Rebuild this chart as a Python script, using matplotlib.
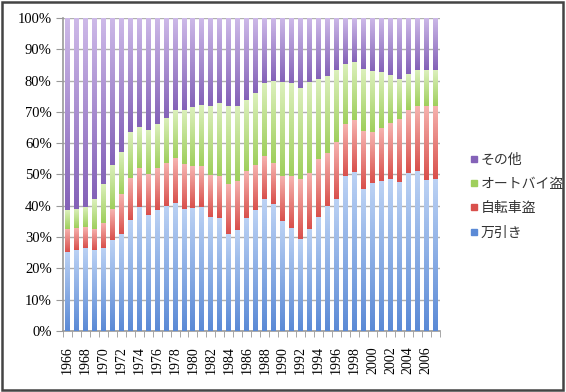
import numpy as np
import matplotlib
matplotlib.use('Agg')
import matplotlib.pyplot as plt
from matplotlib.colors import LinearSegmentedColormap
from matplotlib.lines import Line2D
from matplotlib.patches import Rectangle

plt.rcParams['font.family'] = ['Liberation Serif', 'Noto Sans CJK JP', 'DejaVu Sans']

years = list(range(1966, 2008))
# share of each kind of theft (%)
shoplifting = [25.3, 25.9, 26.6, 25.9, 26.6, 29.0, 31.1, 35.4, 39.6, 37.0,
               38.5, 39.9, 41.0, 39.1, 39.4, 39.6, 36.3, 36.1, 30.9, 32.1,
               36.2, 38.6, 42.0, 40.4, 35.1, 33.0, 29.3, 32.7, 36.5, 39.9,
               42.3, 49.4, 50.9, 45.4, 47.3, 47.9, 48.6, 47.6, 50.5, 51.1,
               48.1, 48.4]
bicycle = [7.4, 7.1, 6.6, 6.8, 8.0, 9.8, 12.5, 13.5, 12.5, 13.0,
           13.6, 13.8, 14.3, 14.1, 13.3, 13.1, 13.4, 13.4, 15.9, 15.8,
           14.9, 14.4, 13.9, 13.3, 14.4, 16.5, 19.1, 17.8, 18.3, 17.0,
           18.0, 16.6, 16.6, 18.6, 16.3, 17.0, 17.7, 20.0, 20.2, 20.7,
           23.7, 23.4]
motorbike = [5.9, 6.1, 6.5, 9.3, 12.5, 14.2, 13.6, 14.7, 13.1, 14.1,
             13.9, 14.4, 15.2, 17.5, 18.8, 19.5, 22.1, 23.3, 25.2, 24.1,
             22.8, 22.9, 23.4, 26.1, 30.0, 29.8, 29.3, 29.0, 25.7, 24.7,
             23.0, 19.3, 18.5, 19.8, 19.4, 17.8, 15.6, 12.9, 11.5, 11.7,
             11.5, 11.5]
other = [61.4, 60.9, 60.3, 58.0, 52.9, 47.0, 42.8, 36.4, 34.8, 35.9,
         34.0, 31.9, 29.5, 29.3, 28.5, 27.8, 28.2, 27.2, 28.0, 28.0,
         26.1, 24.1, 20.7, 20.2, 20.5, 20.7, 22.3, 20.5, 19.5, 18.4,
         16.7, 14.7, 14.0, 16.2, 17.0, 17.3, 18.1, 19.5, 17.8, 16.5,
         16.7, 16.7]

labels = ['万引き', '自転車盗', 'オートバイ盗', 'その他']
series = [shoplifting, bicycle, motorbike, other]
# (dark bottom, light top) for the glossy gradient
grads = [('#5b8ad6', '#bcd2f4'), ('#d9504c', '#f6b4b0'),
         ('#9fcf5c', '#dcf0bc'), ('#8462b8', '#cdb9e8')]

fig = plt.figure(figsize=(5.66, 3.92), dpi=100)
ax = fig.add_axes([0.111, 0.156, 0.666, 0.798])

x = np.arange(len(years))
data = np.array(series, dtype=float)
data = data / data.sum(axis=0) * 100
bottom = np.zeros(len(years))
grad_img = np.linspace(0, 1, 64).reshape(-1, 1)
for vals, (c0, c1) in zip(data, grads):
    bars = ax.bar(x, vals, 0.55, bottom=bottom, color=c0, linewidth=0, zorder=2)
    cmap = LinearSegmentedColormap.from_list('g', [c0, c1])
    for b in bars:
        x0, y0 = b.get_x(), b.get_y()
        im = ax.imshow(grad_img, cmap=cmap, origin='lower', aspect='auto',
                       extent=(x0, x0 + b.get_width(), y0, y0 + b.get_height()),
                       zorder=3, interpolation='bilinear')
        im.set_clip_path(b)
    bottom += vals

ax.set_xlim(-0.5, len(years) - 0.5)
ax.set_ylim(0, 100)
ax.set_yticks(np.arange(0, 101, 10))
ax.set_yticklabels(['%d%%' % v for v in range(0, 101, 10)], fontsize=10.5)
ax.yaxis.grid(True, color='#b0b0b0', linewidth=1, zorder=0)
ax.set_axisbelow(True)

ax.set_xticks(x[::2])
ax.set_xticklabels([str(y) for y in years[::2]], rotation=90, fontsize=10)
ax.set_xticks(np.arange(-0.5, len(years), 1), minor=True)
ax.tick_params(axis='x', which='major', length=0, pad=11)
ax.tick_params(axis='x', which='minor', length=4, color='#999999', direction='out')
ax.tick_params(axis='y', length=5, color='#999999', pad=3)

for s in ['top', 'right']:
    ax.spines[s].set_visible(False)
for s in ['left', 'bottom']:
    ax.spines[s].set_color('#999999')
    ax.spines[s].set_linewidth(1.2)

handles = [Line2D([], [], marker='s', linestyle='', markersize=5,
                  color=c[0]) for c in grads]
fig.legend(handles[::-1], labels[::-1], loc='center left',
           bbox_to_anchor=(0.805, 0.5), frameon=False, handletextpad=0.1,
           handlelength=0.8, labelspacing=0.75, labelcolor='#333333',
           prop={'family': ['Noto Sans CJK JP'], 'size': 10})

# frame around the whole picture
fig.patches.append(Rectangle((0.003, 0.006), 0.992, 0.99, transform=fig.transFigure,
                             fill=False, edgecolor='#444444', linewidth=1.8))

fig.savefig('out.png', dpi=100)
